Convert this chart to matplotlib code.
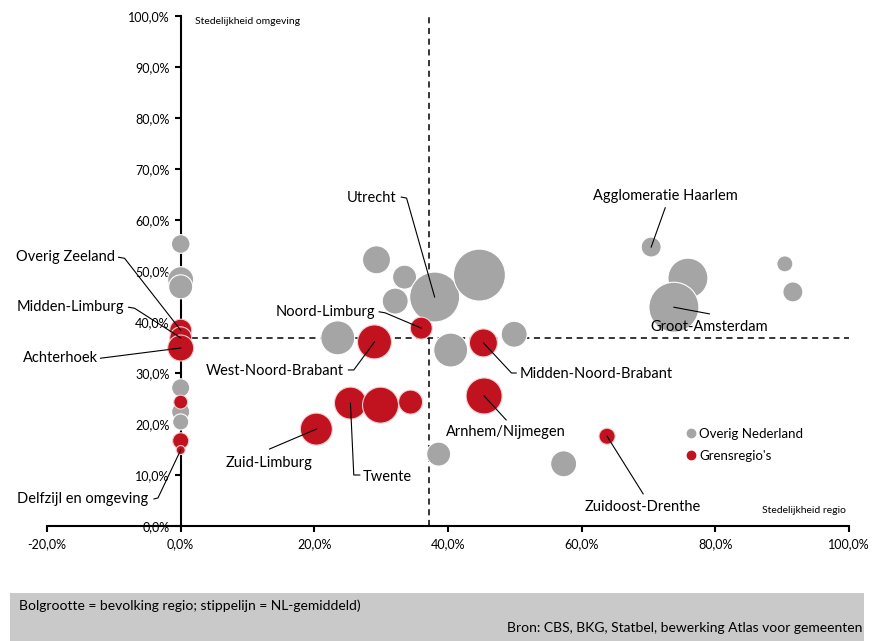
import matplotlib.pyplot as plt
from matplotlib.lines import Line2D
from matplotlib.patches import Rectangle

plt.rcParams['font.family'] = ['Lato', 'DejaVu Sans']

# data: stedelijkheid regio (x, %), stedelijkheid omgeving (y, %), bevolking (x1000)
overig_namen = ['', '', '', '', '', '', '', '', '', 'Utrecht', '', '', '', '', '', '',
                'Agglomeratie Haarlem', '', 'Groot-Amsterdam', '', '']
overig_x = [0, 0, 0, 0, 0, 0, 29.3, 33.5, 32.1, 38.0, 44.7, 23.5, 40.4, 49.9, 38.6, 57.3,
            70.4, 75.9, 73.8, 90.4, 91.6]
overig_y = [55.3, 48.3, 46.9, 27.1, 22.4, 20.4, 52.2, 48.8, 44.1, 44.9, 49.2, 36.9, 34.5, 37.6,
            14.1, 12.2, 54.7, 48.6, 42.9, 51.4, 45.9]
overig_bev = [180, 350, 300, 170, 170, 135, 406, 298, 350, 1294, 1400, 598, 598, 350, 298, 350,
              207, 828, 1294, 133, 207]

grens_namen = ['Overig Zeeland', 'Midden-Limburg', 'Achterhoek', '', '', 'Delfzijl en omgeving',
               'Noord-Limburg', 'West-Noord-Brabant', 'Midden-Noord-Brabant', 'Zuid-Limburg',
               'Twente', '', '', 'Arnhem/Nijmegen', 'Zuidoost-Drenthe']
grens_x = [0, 0, 0, 0, 0, 0, 36.0, 29.0, 45.3, 20.3, 25.4, 29.9, 34.4, 45.4, 63.8]
grens_y = [38.4, 36.9, 34.9, 24.3, 16.7, 14.9, 38.8, 36.1, 35.9, 19.0, 24.1, 23.7, 24.3, 25.5, 17.6]
grens_bev = [250, 250, 350, 100, 135, 42, 250, 598, 406, 530, 530, 671, 298, 671, 135]

# NL-gemiddelde (stippellijnen)
nl_x = 37.1
nl_y = 36.9

# plaats van de labels: tekstpositie, uitlijning, punten van de verbindingslijn
labels = {
    'Overig Zeeland': (-9.9, 52.7, 'right', [(-9.3, 52.7), (-8.4, 52.5)]),
    'Midden-Limburg': (-8.4, 42.9, 'right', [(-7.8, 42.9), (-6.9, 42.7)]),
    'Achterhoek': (-12.4, 32.9, 'right', [(-12.0, 32.9)]),
    'Delfzijl en omgeving': (-4.8, 5.3, 'right', [(-4.0, 5.3), (-3.4, 5.5)]),
    'Noord-Limburg': (29.1, 42.0, 'right', [(29.7, 42.0), (30.6, 41.8)]),
    'Utrecht': (32.3, 64.3, 'right', [(33.0, 64.5), (33.8, 64.3)]),
    'West-Noord-Brabant': (24.4, 30.4, 'right', [(25.1, 30.6), (25.9, 30.6)]),
    'Midden-Noord-Brabant': (50.7, 29.8, 'left', [(50.2, 30.0), (49.5, 30.0)]),
    'Arnhem/Nijmegen': (48.6, 18.4, 'center', [(48.7, 20.8)]),
    'Twente': (27.2, 9.6, 'left', [(26.8, 10.0), (25.9, 10.0)]),
    'Zuid-Limburg': (13.2, 12.4, 'center', [(13.3, 15.1)]),
    'Zuidoost-Drenthe': (69.2, 3.7, 'center', [(69.2, 6.3)]),
    'Agglomeratie Haarlem': (72.5, 64.7, 'center', [(72.5, 62.4)]),
    'Groot-Amsterdam': (79.1, 39.0, 'center', [(79.1, 41.6)]),
}

grijs = '#A5A5A5'
rood = '#C0121F'

fig = plt.figure(figsize=(8.74, 6.41), dpi=100)
ax = fig.add_axes([0.0538, 0.1794, 0.9176, 0.7956])

# stippellijnen
ax.plot([nl_x, nl_x], [0, 100], color='black', lw=1.1, ls=(0, (4, 3)), zorder=1)
ax.plot([0, 100], [nl_y, nl_y], color='black', lw=1.1, ls=(0, (4, 3)), zorder=1)

# bollen
ax.scatter(overig_x, overig_y, s=overig_bev, color=grijs, edgecolor='white', linewidth=0.8, zorder=3)
ax.scatter(grens_x, grens_y, s=grens_bev, color=rood, edgecolor='#F2D0D2', linewidth=0.8, zorder=4)

# labels met verbindingslijnen
for namen, xs, ys in [(overig_namen, overig_x, overig_y), (grens_namen, grens_x, grens_y)]:
    for naam, px, py in zip(namen, xs, ys):
        if naam == '':
            continue
        tx, ty, ha, punten = labels[naam]
        lx = [p[0] for p in punten] + [px]
        ly = [p[1] for p in punten] + [py]
        ax.plot(lx, ly, color='black', lw=0.8, zorder=5)
        ax.text(tx, ty, naam, ha=ha, va='center', fontsize=10.5, zorder=6)

# assen
ax.set_xlim(-20, 100)
ax.set_ylim(0, 100)
ax.spines['left'].set_position(('data', 0))
ax.spines['right'].set_visible(False)
ax.spines['top'].set_visible(False)
ax.spines['left'].set_linewidth(1.5)
ax.spines['bottom'].set_linewidth(1.5)
ax.set_xticks(range(-20, 101, 20))
ax.set_yticks(range(0, 101, 10))
ax.set_xticklabels([f'{v},0%' for v in range(-20, 101, 20)])
ax.set_yticklabels([f'{v},0%' for v in range(0, 101, 10)])
ax.tick_params(axis='both', labelsize=9, length=4, width=1.5, direction='out', pad=4)
ax.tick_params(axis='x', pad=5)

ax.text(0.1845, 0.99, 'Stedelijkheid omgeving', transform=ax.transAxes, fontsize=7.5, va='center')
ax.text(0.996, 0.031, 'Stedelijkheid regio', transform=ax.transAxes, fontsize=7.5, va='center', ha='right')

# legenda
handles = [Line2D([], [], marker='o', ls='', color=grijs, markersize=6, label='Overig Nederland'),
           Line2D([], [], marker='o', ls='', color=rood, markersize=6, label="Grensregio's")]
ax.legend(handles=handles, loc='upper left', bbox_to_anchor=(0.79, 0.205), frameon=False,
          fontsize=9.5, handlelength=0.6, handletextpad=0.3, labelspacing=0.75, borderpad=0)

# grijze balk onderaan
fig.patches.append(Rectangle((0.0114, 0), 0.9772, 0.0749, transform=fig.transFigure,
                             facecolor='#C9C9C9', edgecolor='none'))
fig.text(0.0217, 0.0546, 'Bolgrootte = bevolking regio; stippelijn = NL-gemiddeld)', fontsize=10, va='center')
fig.text(0.9863, 0.0203, 'Bron: CBS, BKG, Statbel, bewerking Atlas voor gemeenten', fontsize=10,
         va='center', ha='right')

fig.savefig('out.png', dpi=100)
